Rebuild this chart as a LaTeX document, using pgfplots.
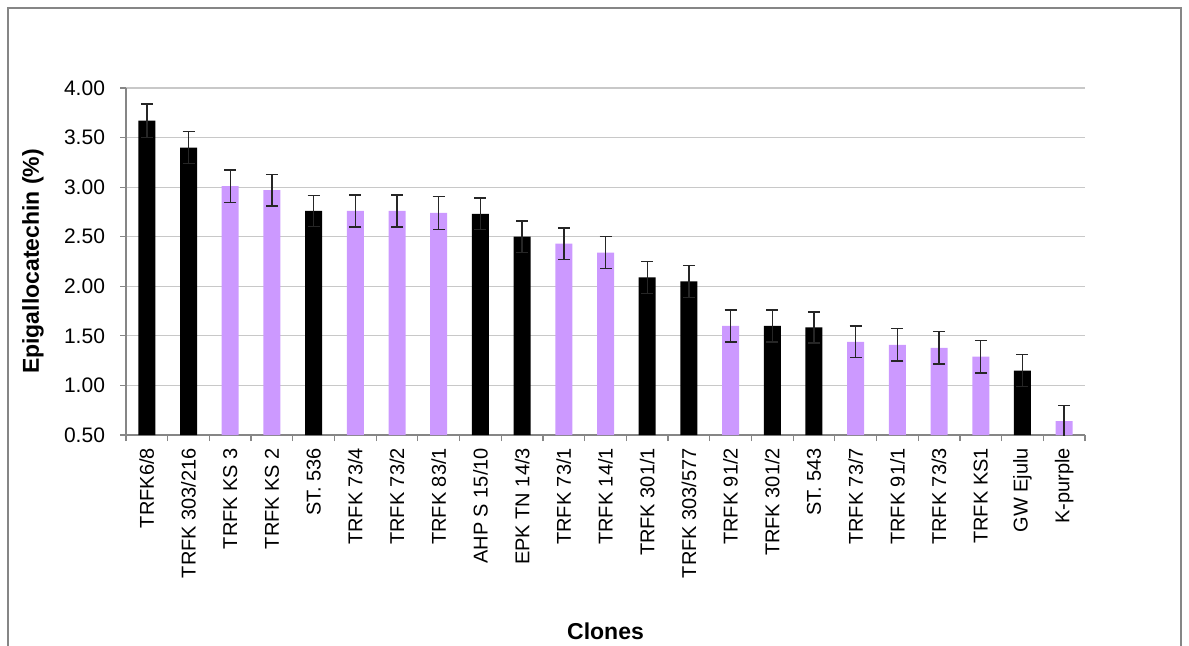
\documentclass[border=0pt]{standalone}
\usepackage{pgfplots}
\pgfplotsset{compat=1.18}
\usepackage{fontspec}
\setmainfont{Liberation Sans}
\definecolor{lav}{RGB}{204,153,255}
\definecolor{axgray}{RGB}{134,134,134}
\definecolor{gridgray}{RGB}{200,200,200}
\begin{document}
\begin{tikzpicture}
\useasboundingbox (0,0) rectangle (594.5pt,-322.5pt);
\draw[axgray, line width=0.8pt] (4pt,-330pt) -- (4pt,-4pt) -- (590.5pt,-4pt) -- (590.5pt,-330pt);
\begin{axis}[
  at={(63pt,-217.5pt)}, anchor=south west,
  scale only axis, width=479.5pt, height=173.5pt,
  xmin=-0.5, xmax=22.5, ymin=0.5, ymax=4,
  axis x line=bottom, axis y line=left,
  axis line style={-, axgray, line width=0.6pt},
  tick align=outside,
  xtick={0,...,22},
  major x tick style={draw=none},
  minor xtick={-0.5,0.5,...,22.5},
  minor tick length=3pt,
  minor x tick style={axgray, line width=0.6pt},
  ytick={0.5,1,...,4},
  major tick length=3pt,
  major y tick style={axgray, line width=0.6pt},
  ymajorgrids, major grid style={gridgray, line width=0.6pt},
  xticklabels={TRFK6/8,TRFK 303/216,TRFK KS 3,TRFK KS 2,ST. 536,TRFK 73/4,TRFK 73/2,TRFK 83/1,AHP S 15/10,EPK TN 14/3,TRFK 73/1,TRFK 14/1,TRFK 301/1,TRFK 303/577,TRFK 91/2,TRFK 301/2,ST. 543,TRFK 73/7,TRFK 91/1,TRFK 73/3,TRFK KS1,GW Ejulu,K-purple},
  xticklabel style={rotate=90, anchor=east, font=\fontsize{10}{12}\selectfont},
  yticklabel style={font=\fontsize{10.5}{12}\selectfont, xshift=-4pt, /pgf/number format/fixed, /pgf/number format/precision=2, /pgf/number format/fixed zerofill},
  /pgf/number format/assume math mode=true,
  ylabel={Epigallocatechin (\%)},
  ylabel style={font=\bfseries\fontsize{11.5}{13}\selectfont, at={(axis description cs:-0.097,0.5)}, anchor=center, rotate=0},
  xlabel={Clones},
  xlabel style={font=\bfseries\fontsize{11.5}{13}\selectfont, at={(axis description cs:0.5,-0.565)}, anchor=center},
  ybar, bar width=8.5pt, bar shift=0pt,
  clip=true,
]
\addplot[fill=black, draw=none, error bars/.cd, y dir=both, y explicit,
  error bar style={black!85, line width=0.7pt}, error mark options={rotate=90, mark size=3pt, black!85, line width=0.7pt}]
  coordinates {(0,3.67)+-(0,0.17) (1,3.40)+-(0,0.16) (4,2.76)+-(0,0.155) (8,2.73)+-(0,0.16) (9,2.50)+-(0,0.16) (12,2.09)+-(0,0.16) (13,2.05)+-(0,0.16) (15,1.60)+-(0,0.16) (16,1.585)+-(0,0.155) (21,1.15)+-(0,0.16)};
\addplot[fill=lav, draw=none, error bars/.cd, y dir=both, y explicit,
  error bar style={black!85, line width=0.7pt}, error mark options={rotate=90, mark size=3pt, black!85, line width=0.7pt}]
  coordinates {(2,3.01)+-(0,0.165) (3,2.97)+-(0,0.16) (5,2.76)+-(0,0.16) (6,2.76)+-(0,0.16) (7,2.74)+-(0,0.165) (10,2.43)+-(0,0.16) (11,2.34)+-(0,0.16) (14,1.60)+-(0,0.16) (17,1.44)+-(0,0.16) (18,1.41)+-(0,0.165) (19,1.38)+-(0,0.165) (20,1.29)+-(0,0.165) (22,0.64)+-(0,0.16)};
\end{axis}
\end{tikzpicture}
\end{document}
